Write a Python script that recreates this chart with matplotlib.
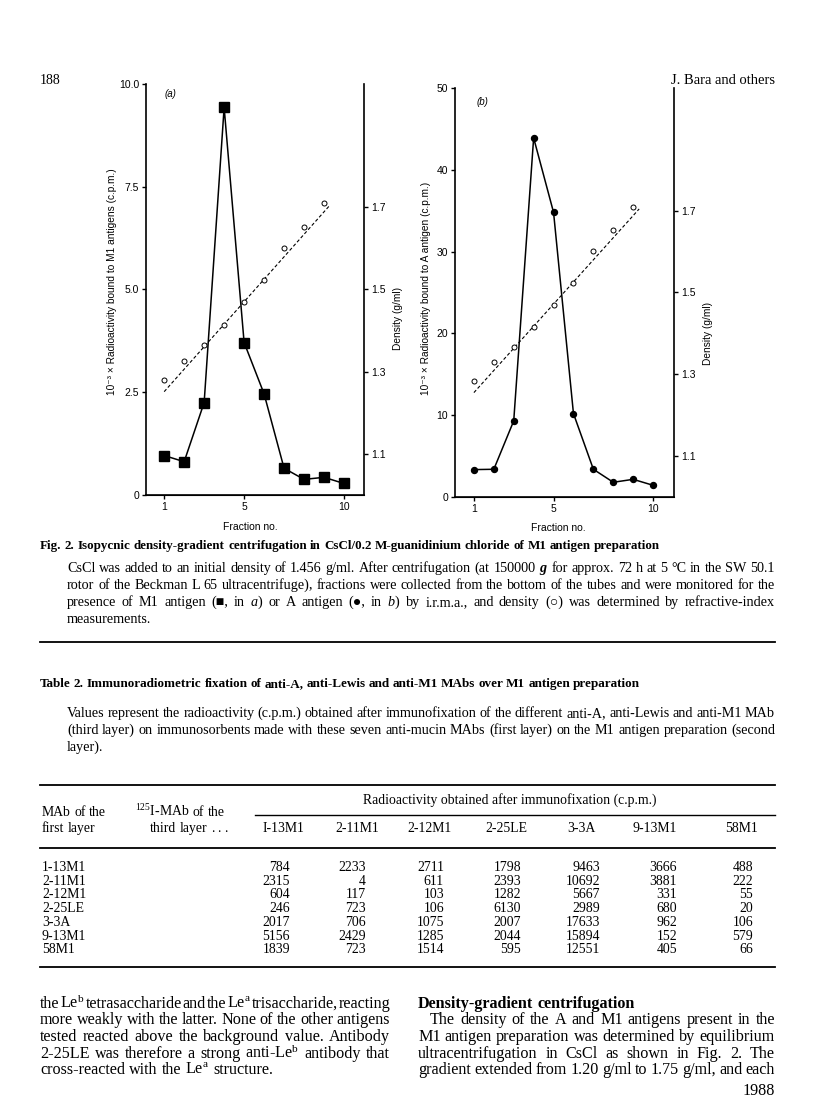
import numpy as np
import matplotlib
matplotlib.use("Agg")
import matplotlib.pyplot as plt
from matplotlib.lines import Line2D

# values
fractions = np.arange(1, 11)
m1_counts = [0.96, 0.81, 2.25, 9.43, 3.71, 2.46, 0.65, 0.38, 0.43, 0.28]
a_counts = [3.35, 3.39, 9.31, 43.9, 34.8, 10.2, 3.39, 1.8, 2.16, 1.43]
dens_frac = np.arange(1, 10)
dens_a = [1.280, 1.326, 1.365, 1.413, 1.469, 1.524, 1.600, 1.653, 1.710]
dens_b = [1.284, 1.329, 1.367, 1.416, 1.470, 1.524, 1.602, 1.653, 1.708]

# Table 2
col_names = ["I-13M1", "2-11M1", "2-12M1", "2-25LE", "3-3A", "9-13M1", "58M1"]
row_names = ["1-13M1", "2-11M1", "2-12M1", "2-25LE", "3-3A", "9-13M1", "58M1"]
table_vals = [
    [784, 2233, 2711, 1798, 9463, 3666, 488],
    [2315, 4, 611, 2393, 10692, 3881, 222],
    [604, 117, 103, 1282, 5667, 331, 55],
    [246, 723, 106, 6130, 2989, 680, 20],
    [2017, 706, 1075, 2007, 17633, 962, 106],
    [5156, 2429, 1285, 2044, 15894, 152, 579],
    [1839, 723, 1514, 595, 12551, 405, 66],
]

SANS = ["Liberation Sans", "DejaVu Sans"]
SERIF = ["Liberation Serif", "DejaVu Serif"]
plt.rcParams["mathtext.fontset"] = "custom"
plt.rcParams["mathtext.rm"] = "Liberation Serif"
plt.rcParams["mathtext.it"] = "Liberation Serif:italic"
plt.rcParams["mathtext.bf"] = "Liberation Serif:bold:italic"

W, H = 816, 1097
fig = plt.figure(figsize=(W / 100, H / 100), dpi=100)
renderer = fig.canvas.get_renderer()


def px(x, y):
    return x / W, 1 - y / H


def rule(x0, x1, y, lw=1.3):
    fig.add_artist(Line2D([x0 / W, x1 / W], [1 - y / H] * 2,
                          transform=fig.transFigure, color="k", lw=lw))


def natural(s, size, **kw):
    # width in px of a line set with ordinary word spaces
    words = s.split()
    tot = 0
    for w in words:
        t = fig.text(0, 0, w, fontsize=size, family=SERIF, **kw)
        tot += t.get_window_extent(renderer).width
        t.remove()
    return tot + (len(words) - 1) * size * 0.25 * 100 / 72


def fit(lines, width, size, **kw):
    return size * np.median([width / natural(s, size, **kw) for s in lines])


def line(x, y, s, width=None, size=9.3, **kw):
    # one line of page text, optionally justified to a given width
    words = s.split()
    texts = [fig.text(*px(x, y), w, fontsize=size, family=SERIF,
                      va="baseline", **kw) for w in words]
    ws = [t.get_window_extent(renderer).width for t in texts]
    gap = size * 0.25 * 100 / 72
    if width is not None and len(words) > 1:
        gap = (width - sum(ws)) / (len(words) - 1)
    cur = x
    for t, w in zip(texts, ws):
        t.set_x(cur / W)
        cur += w + gap


def panel(left, bottom, right, top, xlim, ylim, yticks, ylabels, counts,
          marker, ms, dens, ylabel, tag, lab):
    ax = fig.add_axes([left / W, 1 - bottom / H, (right - left) / W,
                       (bottom - top) / H])
    ax.plot(fractions, counts, color="k", lw=1.1, marker=marker, ms=ms,
            mfc="k", mec="k")
    ax.set_xlim(xlim)
    ax.set_ylim(ylim)
    ax.set_xticks([1, 5, 10])
    ax.set_yticks(yticks)
    ax.set_yticklabels(ylabels)
    ax2 = ax.twinx()
    ax2.set_ylim(1.0, 2.0)
    ax2.set_yticks([1.1, 1.3, 1.5, 1.7])
    k, b = np.polyfit(dens_frac, dens, 1)
    xf = np.array([1.0, 9.3])
    ax2.plot(xf, k * xf + b - 0.012, ls=(0, (3, 2)), color="k", lw=0.8)
    ax2.plot(dens_frac, dens, "o", mfc="white", mec="k", ms=3.6, mew=0.7)
    for a in (ax, ax2):
        a.spines["top"].set_visible(False)
        a.tick_params(direction="out", length=3, width=1, labelsize=7.5,
                      pad=2)
        for t in a.get_xticklabels() + a.get_yticklabels():
            t.set_family(SANS)
    ax.spines["right"].set_visible(False)
    ax2.spines["left"].set_visible(False)
    for sp in ("left", "bottom"):
        ax.spines[sp].set_linewidth(1.2)
    ax2.spines["right"].set_linewidth(1.2)
    ax.set_ylabel(ylabel, fontsize=7.3, family=SANS)
    ax.yaxis.set_label_coords(lab[0], lab[1])
    ax2.set_ylabel("Density (g/ml)", fontsize=7.3, family=SANS)
    ax2.yaxis.set_label_coords(lab[2], lab[3])
    ax.set_xlabel("Fraction no.", fontsize=7.5, family=SANS)
    ax.xaxis.set_label_coords(lab[4], lab[5])
    ax.text(lab[6], lab[7], tag, transform=ax.transAxes, fontsize=7,
            family=SANS, style="italic", va="center")


panel(146, 495, 364, 84, (0.09, 11.0), (0, 10), [0, 2.5, 5, 7.5, 10],
      ["0", "2.5", "5.0", "7.5", "10.0"], m1_counts, "s", 6.8, dens_a,
      "10\u207b\u00b3 \u00d7 Radioactivity bound to M1 antigens (c.p.m.)",
      "(a)", (-0.133, 0.52, 1.133, 0.43, 0.48, -0.065, 0.085, 0.975))
panel(455, 497, 674, 88, (0.05, 11.05), (0, 50), [0, 10, 20, 30, 40, 50],
      ["0", "10", "20", "30", "40", "50"], a_counts, "o", 4.3, dens_b,
      "10\u207b\u00b3 \u00d7 Radioactivity bound to A antigen (c.p.m.)",
      "(b)", (-0.11, 0.51, 1.132, 0.40, 0.47, -0.063, 0.1, 0.965))

# running head
line(40, 84, "188", size=10)
fig.text(*px(775, 84), "J. Bara and others", fontsize=10.5, family=SERIF,
         ha="right", va="baseline")

# figure caption
title = ("Fig. 2. Isopycnic density-gradient centrifugation in "
         "CsCl/0.2 M-guanidinium chloride of M1 antigen preparation")
line(40, 549, title, width=620, size=fit([title], 620, 9, weight="bold"),
     weight="bold")
cap = [
    "CsCl was added to an initial density of 1.456 g/ml. After "
    "centrifugation (at 150000 $\\mathbf{g}$ for approx. 72 h at 5 \u00b0C "
    "in the SW 50.1",
    "rotor of the Beckman L 65 ultracentrifuge), fractions were collected "
    "from the bottom of the tubes and were monitored for the",
    "presence of M1 antigen (\u25a0, in $a$) or A antigen (\u25cf, in $b$) "
    "by i.r.m.a., and density (\u25cb) was determined by refractive-index",
]
cap_size = fit(cap, 708, 9.5)
for i, s in enumerate(cap):
    line(67, 572 + 17 * i, s, width=708, size=cap_size)
line(67, 623, "measurements.", size=cap_size)
rule(40, 775, 642)

# table
ttitle = ("Table 2. Immunoradiometric fixation of anti-A, anti-Lewis "
          "and anti-M1 MAbs over M1 antigen preparation")
line(40, 687, ttitle, width=600, size=fit([ttitle], 600, 9, weight="bold"),
     weight="bold")
desc = [
    "Values represent the radioactivity (c.p.m.) obtained after "
    "immunofixation of the different anti-A, anti-Lewis and anti-M1 MAb",
    "(third layer) on immunosorbents made with these seven anti-mucin MAbs "
    "(first layer) on the M1 antigen preparation (second",
]
for i, s in enumerate(desc):
    line(67, 717 + 17 * i, s, width=708, size=cap_size)
line(67, 751, "layer).", size=cap_size)
rule(40, 775, 785)

TS = 9.9
fig.text(*px(510, 804), "Radioactivity obtained after immunofixation (c.p.m.)",
         fontsize=TS, family=SERIF, ha="center", va="baseline")
rule(255, 775, 815, lw=1.0)
line(42, 816, "MAb of the", size=TS)
line(42, 832, "first layer", size=TS)
line(135, 816, "$^{125}$I-MAb of the", size=TS)
line(150, 832, "third layer . . .", size=TS)
col_x = [283, 357, 430, 506, 581, 655, 741]
for cx, name in zip(col_x, col_names):
    fig.text(*px(cx, 832), name, fontsize=TS, family=SERIF, ha="center",
             va="baseline")
rule(40, 775, 848)
num_x = [290, 366, 444, 521, 600, 677, 753]
for r, (name, vals) in enumerate(zip(row_names, table_vals)):
    y = 871 + 13.7 * r
    line(42, y, name, size=TS)
    for nx, v in zip(num_x, vals):
        fig.text(*px(nx, y), str(v), fontsize=TS, family=SERIF, ha="right",
                 va="baseline")
rule(40, 775, 967)

# body text
left_col = [
    "the Le$^\\mathrm{b}$ tetrasaccharide and the Le$^\\mathrm{a}$ "
    "trisaccharide, reacting",
    "more weakly with the latter. None of the other antigens",
    "tested reacted above the background value. Antibody",
    "2-25LE was therefore a strong anti-Le$^\\mathrm{b}$ antibody that",
]
right_col = [
    (430, "The density of the A and M1 antigens present in the"),
    (418, "M1 antigen preparation was determined by equilibrium"),
    (418, "ultracentrifugation in CsCl as shown in Fig. 2. The"),
    (418, "gradient extended from 1.20 g/ml to 1.75 g/ml, and each"),
]
body_size = fit(left_col, 350, 10)
for i, s in enumerate(left_col):
    line(40, 1008 + 16.5 * i, s, width=350, size=body_size)
line(40, 1074, "cross-reacted with the Le$^\\mathrm{a}$ structure.",
     size=body_size)

line(418, 1008, "Density-gradient centrifugation", size=body_size,
     weight="bold")
for i, (x0, s) in enumerate(right_col):
    line(x0, 1024.5 + 16.5 * i, s, width=775 - x0, size=body_size)
fig.text(*px(775, 1095), "1988", fontsize=body_size, family=SERIF,
         ha="right", va="baseline")

fig.savefig("out.png", dpi=100)
